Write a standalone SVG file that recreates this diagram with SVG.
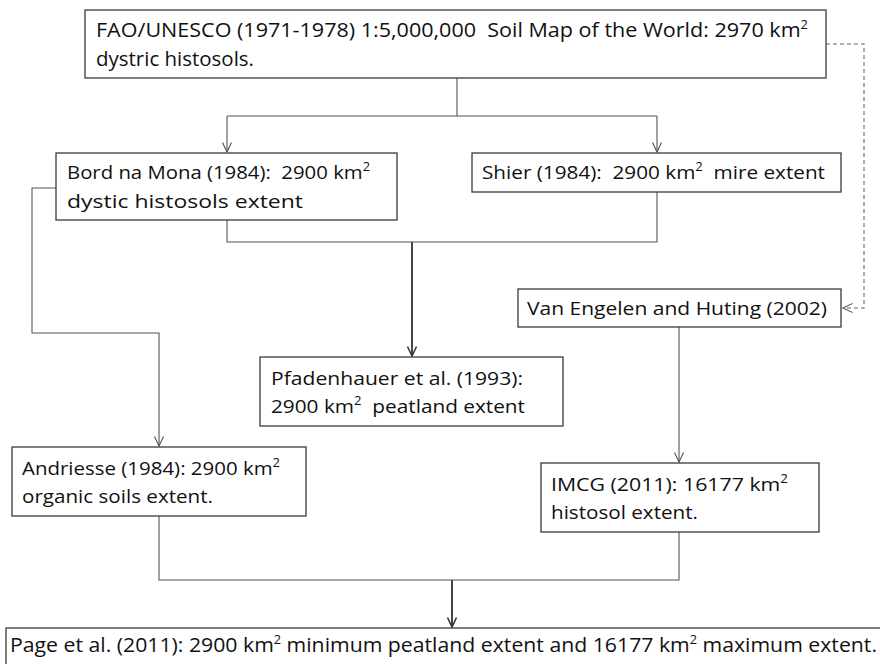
<svg xmlns="http://www.w3.org/2000/svg" width="880" height="664" viewBox="0 0 880 664">
<defs>
<style>
.box{fill:#fff;stroke:#3a3a3a;stroke-width:1.3}
.t{font-family:"Open Sans","Noto Sans",sans-serif;font-size:19px;fill:#111;white-space:pre}
.tc{font-family:"Open Sans","Noto Sans",sans-serif;font-size:20px;fill:#111;white-space:pre}
.sup{font-size:12px}
.c{fill:none;stroke:#555;stroke-width:1.1}
.ct{fill:none;stroke:#333;stroke-width:1.8}
.d{fill:none;stroke:#666;stroke-width:1.1;stroke-dasharray:4 3}
</style>
<marker id="a" markerUnits="userSpaceOnUse" markerWidth="11" markerHeight="10" viewBox="0 0 11 10" refX="10" refY="5" orient="auto">
<path d="M0.5,0.5 L10,5 L0.5,9.5" fill="none" stroke="#555" stroke-width="1.1"/>
</marker>
<marker id="ad" markerUnits="userSpaceOnUse" markerWidth="11" markerHeight="10" viewBox="0 0 11 10" refX="10" refY="5" orient="auto">
<path d="M0.5,0.5 L10,5 L0.5,9.5" fill="none" stroke="#666" stroke-width="1.1"/>
</marker>
<marker id="at" markerUnits="userSpaceOnUse" markerWidth="11" markerHeight="10" viewBox="0 0 11 10" refX="10" refY="5" orient="auto">
<path d="M0.5,0.5 L10,5 L0.5,9.5" fill="none" stroke="#333" stroke-width="1.5"/>
</marker>
</defs>
<rect width="880" height="664" fill="#fff"/>
<g id="connectors">
<path class="c" d="M457,78 V116 M227,116 H657"/>
<path class="c" d="M227,116 V152" marker-end="url(#a)"/>
<path class="c" d="M657,116 V152" marker-end="url(#a)"/>
<path class="d" d="M826,44 H864 V308 H843" marker-end="url(#ad)"/>
<path class="c" d="M227,220 V242 H657 V192"/>
<path class="ct" d="M412,242 V356" marker-end="url(#at)"/>
<path class="c" d="M56,188 H32 V333 H159 V446" marker-end="url(#a)"/>
<path class="c" d="M679,327 V462" marker-end="url(#a)"/>
<path class="c" d="M159,516 V580 H679 V532"/>
<path class="ct" d="M452,580 V627" marker-end="url(#at)"/>
</g>
<g id="fao">
<rect class="box" x="85" y="10" width="741" height="68"/>
<text class="tc" x="96" y="37" textLength="712" lengthAdjust="spacingAndGlyphs">FAO/UNESCO (1971-1978) 1:5,000,000  Soil Map of the World: 2970 km<tspan class="sup" dy="-8">2</tspan></text>
<text class="tc" x="96" y="66" textLength="158" lengthAdjust="spacingAndGlyphs">dystric histosols.</text>
</g>
<g id="bord">
<rect class="box" x="56" y="153" width="341" height="67"/>
<text class="t" x="67" y="179" textLength="303" lengthAdjust="spacingAndGlyphs">Bord na Mona (1984):  2900 km<tspan class="sup" dy="-8">2</tspan></text>
<text class="t" x="67" y="208" textLength="236" lengthAdjust="spacingAndGlyphs">dystic histosols extent</text>
</g>
<g id="shier">
<rect class="box" x="472" y="153" width="369" height="39"/>
<text class="t" x="482" y="179" textLength="343" lengthAdjust="spacingAndGlyphs">Shier (1984):  2900 km<tspan class="sup" dy="-8">2</tspan><tspan dy="8">  mire extent</tspan></text>
</g>
<g id="vanengelen">
<rect class="box" x="518" y="289" width="323" height="38"/>
<text class="t" x="527" y="315" textLength="300" lengthAdjust="spacingAndGlyphs">Van Engelen and Huting (2002)</text>
</g>
<g id="pfadenhauer">
<rect class="box" x="260" y="357" width="303" height="69"/>
<text class="t" x="271" y="385" textLength="252" lengthAdjust="spacingAndGlyphs">Pfadenhauer et al. (1993):</text>
<text class="t" x="271" y="413" textLength="254" lengthAdjust="spacingAndGlyphs">2900 km<tspan class="sup" dy="-8">2</tspan><tspan dy="8">  peatland extent</tspan></text>
</g>
<g id="andriesse">
<rect class="box" x="12" y="447" width="294" height="69"/>
<text class="t" x="22" y="475" textLength="258" lengthAdjust="spacingAndGlyphs">Andriesse (1984): 2900 km<tspan class="sup" dy="-8">2</tspan></text>
<text class="t" x="22" y="503" textLength="191" lengthAdjust="spacingAndGlyphs">organic soils extent.</text>
</g>
<g id="imcg">
<rect class="box" x="541" y="463" width="278" height="69"/>
<text class="t" x="551" y="491" textLength="237" lengthAdjust="spacingAndGlyphs">IMCG (2011): 16177 km<tspan class="sup" dy="-8">2</tspan></text>
<text class="t" x="551" y="519" textLength="147" lengthAdjust="spacingAndGlyphs">histosol extent.</text>
</g>
<g id="page">
<rect class="box" x="6" y="628" width="900" height="60"/>
<text class="tc" x="10" y="652" textLength="867" lengthAdjust="spacingAndGlyphs">Page et al. (2011): 2900 km<tspan class="sup" dy="-8">2</tspan><tspan dy="8"> minimum peatland extent and 16177 km</tspan><tspan class="sup" dy="-8">2</tspan><tspan dy="8"> maximum extent.</tspan></text>
</g>
</svg>
